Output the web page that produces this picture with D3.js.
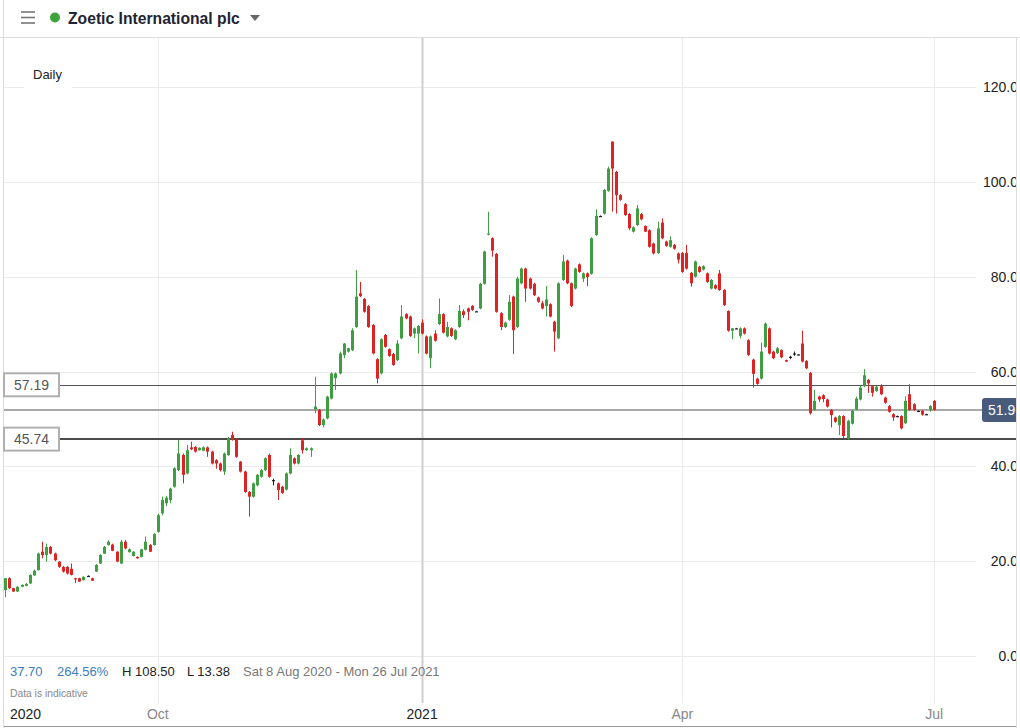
<!DOCTYPE html>
<html><head><meta charset="utf-8">
<script src="https://cdn.jsdelivr.net/npm/d3@7"></script>
<style>
body{margin:0;background:#fff;}
svg{display:block;font-family:"Liberation Sans",Arial,sans-serif;}
</style>
</head><body>
<svg id="chart" width="1020" height="728"></svg>
<script>
// ---- Data (Zoetic International plc, daily OHLC, 10 Aug 2020 - 1 Jul 2021) ----
const startDate = "2020-08-10";
const holidays = ["2020-08-31","2020-12-25","2020-12-28","2021-01-01","2021-04-02","2021-04-05","2021-05-03","2021-05-31"];
const opens = [
13.9,16.4,14.3,13.6,14.6,14.8,15.3,17.0,18.1,22.0,
21.3,23.0,21.6,19.9,18.8,18.8,18.4,16.4,16.4,16.0,
16.9,16.4,17.8,19.5,21.6,23.4,23.5,22.0,19.5,24.1,
21.9,21.1,20.9,20.9,22.4,23.4,23.4,26.2,30.1,32.2,
32.9,35.7,39.2,42.4,38.5,44.0,44.1,43.4,43.3,44.0,
43.1,41.3,40.6,38.9,42.4,46.6,45.6,41.0,38.9,34.6,
33.6,36.0,37.8,39.2,42.4,37.1,36.4,35.7,35.1,38.5,
41.7,40.6,45.5,43.4,43.4,52.0,51.9,48.7,50.1,54.3,
58.6,59.6,63.5,64.2,64.5,69.4,76.5,75.3,73.8,69.8,
62.6,59.6,67.7,64.7,63.7,62.4,67.0,72.1,71.6,68.0,
68.0,70.3,67.4,62.8,68.0,70.0,72.1,67.4,69.1,66.8,
69.4,72.7,73.3,73.8,72.7,73.3,78.5,88.9,88.1,84.8,
72.3,69.4,70.9,75.8,69.4,78.6,81.7,79.6,78.5,75.6,
74.4,73.8,74.2,70.5,67.0,79.3,83.4,78.6,77.5,82.6,
79.6,80.7,80.6,88.8,92.8,93.3,98.1,108.5,102.1,97.2,
95.3,93.2,89.5,90.9,93.2,90.7,89.8,87.0,85.0,91.4,
87.4,86.3,86.7,84.9,85.0,85.0,80.8,80.0,82.1,81.5,
80.7,77.5,78.2,80.7,77.2,72.75,68.6,69.1,67.5,69.1,
66.6,62.5,58.5,58.5,65.2,69.1,64.2,63.9,64.5,62.4,
63.1,63.8,63.6,65.9,62.2,59.7,51.9,54.7,55.0,54.1,
51.9,50.3,48.7,50.6,45.9,49.0,52.0,54.1,56.9,58.2,
56.9,55.9,56.9,54.5,52.7,51.0,50.6,50.6,49.1,55.2,
53.1,51.7,51.7,51.0,51.9,53.8];
const highs = [
16.4,16.6,14.4,14.7,15.1,15.4,17.2,18.2,21.8,24.1,
23.7,23.2,21.8,20.0,19.0,19.0,19.5,16.5,16.5,16.8,
17.0,16.5,19.4,21.5,23.2,24.4,23.7,22.1,24.5,24.5,
22.7,22.1,21.0,22.6,25.2,23.6,25.9,30.0,33.6,33.8,
35.5,39.8,45.6,42.7,44.5,45.2,44.3,44.0,44.2,44.2,
43.3,41.5,40.8,42.9,46.2,47.3,45.8,41.1,39.1,34.8,
36.6,38.4,39.4,41.9,42.7,37.4,36.6,35.9,38.7,43.8,
41.9,42.6,45.9,44.0,44.0,58.9,52.1,50.1,54.9,59.8,
59.8,64.2,66.0,65.0,69.1,81.4,78.9,75.5,74.0,70.0,
62.8,67.0,67.9,64.9,63.9,66.6,74.0,72.3,71.8,69.3,
69.8,71.0,67.6,67.6,68.7,75.4,72.3,70.5,69.3,68.9,
74.0,73.1,73.5,74.0,72.8,78.7,85.5,93.7,88.3,85.0,
72.5,70.5,76.1,76.0,80.0,81.9,81.9,79.8,78.7,75.8,
74.9,78.0,74.4,70.7,78.8,84.6,83.6,78.8,81.9,82.8,
80.9,80.9,88.3,94.2,92.9,98.5,103.2,108.5,102.3,97.4,
95.5,93.4,90.6,95.1,93.4,90.8,90.0,87.2,91.6,92.3,
87.6,88.5,86.9,85.1,85.2,86.7,81.0,83.4,82.3,82.4,
80.9,79.5,78.4,81.4,77.4,72.9,69.2,69.2,69.3,69.3,
66.8,62.7,58.7,66.1,70.3,69.3,64.4,65.2,64.7,62.5,
63.3,64.2,63.7,68.6,62.4,59.9,56.1,54.9,55.2,54.3,
52.1,50.5,50.8,50.8,49.8,51.9,54.7,57.1,60.5,58.4,
57.1,57.0,57.3,54.7,52.9,51.2,50.7,50.8,54.8,57.3,
53.3,51.8,51.9,51.1,52.9,54.0];
const lows = [
12.4,14.1,13.5,13.5,14.5,14.7,15.2,16.9,18.0,20.6,
19.9,21.4,20.0,18.6,17.6,17.2,17.0,15.4,15.6,15.9,
16.8,15.8,17.7,19.4,21.5,23.3,22.1,19.8,19.4,22.5,
21.8,21.0,20.5,20.8,22.3,21.9,23.3,26.0,29.7,31.6,
32.2,35.5,39.0,36.4,38.3,43.4,42.9,43.3,43.2,42.0,
40.4,39.5,38.9,38.2,42.2,45.4,41.8,38.7,34.4,29.4,
33.4,35.8,37.6,39.0,37.6,36.0,32.9,34.2,34.9,38.3,
40.4,40.4,42.7,43.3,42.0,51.2,48.5,48.2,49.9,54.1,
56.1,59.4,62.8,64.0,64.3,69.2,75.7,72.4,69.2,63.6,
57.5,59.4,65.0,63.1,61.2,62.2,66.8,71.0,67.3,67.0,
63.8,67.8,63.6,60.7,66.3,69.8,68.0,67.2,67.3,66.6,
69.2,71.3,70.8,72.8,72.6,73.1,78.3,88.7,84.2,72.4,
68.7,69.2,70.7,63.7,69.2,78.4,74.7,77.3,75.9,74.5,
73.1,71.6,71.4,64.2,66.8,79.1,78.4,73.6,77.3,80.8,
78.9,78.0,80.4,88.6,92.7,93.1,97.9,93.7,93.3,96.0,
92.8,89.8,89.3,90.7,91.9,89.4,86.1,84.7,84.8,87.9,
86.3,86.1,85.7,82.8,80.8,81.5,77.9,79.8,80.8,81.3,
78.7,77.3,77.3,77.0,73.8,68.4,66.8,69.0,67.0,67.8,
63.3,56.6,57.2,58.3,65.0,63.6,62.6,63.7,62.8,62.0,
62.6,63.3,63.5,61.9,60.5,50.9,51.7,53.6,53.5,52.4,
48.2,49.2,46.6,46.0,45.6,48.8,51.8,53.9,56.7,55.5,
54.7,55.7,55.0,53.2,51.3,49.6,50.5,47.8,48.9,51.7,
51.7,51.6,50.7,50.9,51.5,51.7];
const closes = [
16.4,14.3,13.6,14.6,15.0,15.2,17.1,18.0,21.6,21.3,
23.0,21.6,20.2,18.8,17.8,17.4,17.1,16.2,15.7,16.7,
16.9,15.9,19.2,21.3,23.0,24.1,22.2,19.9,24.1,22.7,
22.5,22.0,20.6,22.5,24.1,22.0,25.7,29.7,32.9,33.4,
35.3,39.6,42.7,38.2,43.4,43.6,43.1,43.9,44.0,43.1,
40.6,40.6,39.2,42.7,45.9,45.6,42.0,38.9,34.6,33.6,
36.4,38.2,39.2,41.7,37.8,37.1,35.0,34.4,38.5,42.4,
40.6,42.4,43.4,43.8,43.8,52.6,48.7,49.9,54.7,59.6,
59.6,63.8,65.9,64.9,68.7,75.8,75.9,72.6,69.4,63.8,
58.5,66.8,65.2,63.3,61.4,65.9,71.6,71.2,67.5,69.1,
69.6,68.0,63.8,67.4,66.5,72.1,68.2,69.4,67.5,68.7,
72.8,71.9,72.6,73.0,72.7,78.5,85.3,89.1,85.5,72.6,
69.4,70.3,74.7,68.7,79.6,81.7,77.5,77.5,76.1,74.7,
73.3,75.2,71.6,68.4,78.6,83.2,78.6,73.8,81.7,81.0,
80.7,79.9,88.1,92.8,92.8,98.3,102.8,102.8,97.2,96.2,
93.0,90.2,90.4,94.4,92.1,89.5,86.3,84.9,90.2,88.1,
86.5,87.7,85.9,83.6,81.0,81.7,78.6,83.2,81.0,82.2,
78.9,79.3,77.5,77.2,74.0,68.6,69.1,69.1,69.1,68.0,
63.5,59.5,57.4,64.2,70.1,63.8,62.8,64.9,63.0,62.1,
63.1,63.8,63.6,62.1,60.7,51.2,53.8,54.1,54.2,52.6,
50.8,49.4,50.6,46.4,49.6,51.7,54.3,56.6,59.2,57.5,
55.5,56.8,55.2,53.4,51.5,50.3,50.6,48.0,53.8,51.9,
51.9,51.7,50.9,51.0,52.7,51.9];

const yTicks = [0, 20, 40, 60, 80, 100, 120];
const xTickDates = ["2020-10-01", "2021-01-04", "2021-04-01", "2021-07-01"];
const xTickLabels = ["Oct", "2021", "Apr", "Jul"];
const priceLevels = [57.19, 45.74];
const lastPrice = 51.9;
const title = "Zoetic International plc";
const statChange = "37.70", statPct = "264.56%", statHigh = "H 108.50", statLow = "L 13.38";
const rangeText = "Sat 8 Aug 2020 - Mon 26 Jul 2021";

// ---- trading dates (weekdays minus UK holidays) ----
const parse = d3.timeParse("%Y-%m-%d");
const fmt = d3.timeFormat("%Y-%m-%d");
const hol = new Set(holidays);
const dates = [];
let d = parse(startDate);
while (dates.length < opens.length) {
  const wd = d.getDay();
  if (wd !== 0 && wd !== 6 && !hol.has(fmt(d))) dates.push(fmt(d));
  d = d3.timeDay.offset(d, 1);
}
const candles = dates.map((dt, i) => ({date: dt, o: opens[i], h: highs[i], l: lows[i], c: closes[i]}));

// ---- layout ----
const svg = d3.select("#chart");
const step = 4.13;
const x0 = 5 - step / 2;
const x = d3.scaleBand().domain(dates).range([x0, x0 + step * dates.length]).paddingInner(0.27).paddingOuter(0.135);
const y = d3.scaleLinear().domain([0, 120]).range([656, 87]);
const plotRight = 976;
const GREEN = "#3f9d42", RED = "#dd2323", DARK = "#222";

// header
svg.append("rect").attr("x", 0).attr("y", 0).attr("width", 1020).attr("height", 728).attr("fill", "#fff");
svg.append("line").attr("x1", 0).attr("x2", 1020).attr("y1", 37.5).attr("y2", 37.5).attr("stroke", "#dcdcdc");
svg.append("line").attr("x1", 3.5).attr("x2", 3.5).attr("y1", 0).attr("y2", 728).attr("stroke", "#dcdcdc");
svg.append("line").attr("x1", 1016.5).attr("x2", 1016.5).attr("y1", 37).attr("y2", 728).attr("stroke", "#dcdcdc");
[12, 17.5, 23].forEach(yy => svg.append("line").attr("x1", 21).attr("x2", 35).attr("y1", yy).attr("y2", yy)
  .attr("stroke", "#777").attr("stroke-width", 1.6));
svg.append("circle").attr("cx", 55).attr("cy", 17.5).attr("r", 5).attr("fill", "#3da43d");
svg.append("text").attr("x", 68).attr("y", 23.5).attr("font-size", 15.7).attr("font-weight", 700)
  .attr("fill", "#1e2433").text(title);
svg.append("path").attr("d", "M250,15 L260,15 L255,21 Z").attr("fill", "#666");

// gridlines
svg.append("g").selectAll("line").data(yTicks).join("line")
  .attr("x1", 4).attr("x2", plotRight).attr("y1", v => Math.round(y(v)) + 0.5).attr("y2", v => Math.round(y(v)) + 0.5)
  .attr("stroke", "#ebebeb");
const tickX = dt => x(dt) + x.bandwidth() / 2;
svg.append("g").selectAll("line").data(xTickDates).join("line")
  .attr("x1", dt => Math.round(tickX(dt)) + 0.5).attr("x2", dt => Math.round(tickX(dt)) + 0.5)
  .attr("y1", 38).attr("y2", 703)
  .attr("stroke", (dt, i) => xTickLabels[i] === "2021" ? "#cfcfcf" : "#ececec")
  .attr("stroke-width", (dt, i) => xTickLabels[i] === "2021" ? 2 : 1);

// Daily label
svg.append("rect").attr("x", 24).attr("y", 61).attr("width", 48).attr("height", 28).attr("fill", "#fff");
svg.append("text").attr("x", 33).attr("y", 79).attr("font-size", 13).attr("fill", "#222").text("Daily");

// price level lines
svg.append("line").attr("x1", 59).attr("x2", 1016).attr("y1", Math.round(y(priceLevels[0])) + 0.5).attr("y2", Math.round(y(priceLevels[0])) + 0.5)
  .attr("stroke", "#555").attr("stroke-width", 1);
svg.append("line").attr("x1", 4).attr("x2", 983).attr("y1", y(lastPrice)).attr("y2", y(lastPrice))
  .attr("stroke", "#a9a9a9").attr("stroke-width", 2);
svg.append("line").attr("x1", 59).attr("x2", 1016).attr("y1", y(priceLevels[1])).attr("y2", y(priceLevels[1]))
  .attr("stroke", "#4a4a4a").attr("stroke-width", 2);

// candles
const g = svg.append("g");
const colorOf = c => c.c > c.o ? GREEN : (c.c < c.o ? RED : DARK);
g.selectAll("line.wick").data(candles).join("line").attr("class", "wick")
  .attr("x1", c => Math.round(x(c.date) + x.bandwidth() / 2) + 0.5)
  .attr("x2", c => Math.round(x(c.date) + x.bandwidth() / 2) + 0.5)
  .attr("y1", c => y(c.h)).attr("y2", c => y(c.l))
  .attr("stroke", colorOf).attr("stroke-width", 1);
g.selectAll("rect.body").data(candles).join("rect").attr("class", "body")
  .attr("x", c => Math.round(x(c.date) + x.bandwidth() / 2) - 1)
  .attr("width", 3)
  .attr("y", c => y(Math.max(c.o, c.c)))
  .attr("height", c => Math.max(1.2, Math.abs(y(c.o) - y(c.c))))
  .attr("fill", colorOf);

// level label boxes (left)
priceLevels.forEach(v => {
  const yy = y(v);
  svg.append("rect").attr("x", 4).attr("y", yy - 11.5).attr("width", 55).attr("height", 23)
    .attr("fill", "#fff").attr("stroke", "#b0b0b0").attr("stroke-width", 2);
  svg.append("text").attr("x", 14).attr("y", yy + 5).attr("font-size", 14).attr("fill", "#555").text(v.toFixed(2));
});

// y axis labels (clipped at right border)
svg.append("clipPath").attr("id", "axclip").append("rect").attr("x", 970).attr("y", 38).attr("width", 46).attr("height", 680);
const ax = svg.append("g").attr("clip-path", "url(#axclip)");
ax.selectAll("text").data(yTicks).join("text")
  .attr("x", 1018).attr("y", v => y(v) + 5).attr("text-anchor", "end")
  .attr("font-size", 14).attr("fill", "#222").text(d3.format(".1f"));
ax.append("rect").attr("x", 982).attr("y", y(lastPrice) - 12).attr("width", 44).attr("height", 24).attr("rx", 3)
  .attr("fill", "#485b7c");
ax.append("text").attr("x", 988).attr("y", y(lastPrice) + 5).attr("font-size", 14).attr("fill", "#fff").text(lastPrice.toFixed(1));

// bottom stats
const st = svg.append("g").attr("font-size", 13);
st.append("text").attr("x", 10).attr("y", 676).attr("fill", "#3c7dbd").text(statChange);
st.append("text").attr("x", 57).attr("y", 676).attr("fill", "#3c7dbd").text(statPct);
st.append("text").attr("x", 122).attr("y", 676).attr("fill", "#222").text(statHigh);
st.append("text").attr("x", 187).attr("y", 676).attr("fill", "#222").text(statLow);
st.append("text").attr("x", 243).attr("y", 676).attr("fill", "#777").text(rangeText);
svg.append("text").attr("x", 10).attr("y", 697).attr("font-size", 10.3).attr("fill", "#888").text("Data is indicative");

// x axis labels
svg.append("text").attr("x", 10).attr("y", 719).attr("font-size", 14).attr("fill", "#222").text("2020");
svg.append("g").selectAll("text").data(xTickDates).join("text")
  .attr("x", dt => tickX(dt)).attr("y", 719).attr("text-anchor", "middle").attr("font-size", 14)
  .attr("fill", (dt, i) => xTickLabels[i] === "2021" ? "#222" : "#888")
  .text((dt, i) => xTickLabels[i]);
svg.append("line").attr("x1", 4).attr("x2", 1016).attr("y1", 726.5).attr("y2", 726.5).attr("stroke", "#9a9a9a");
</script>
</body></html>
